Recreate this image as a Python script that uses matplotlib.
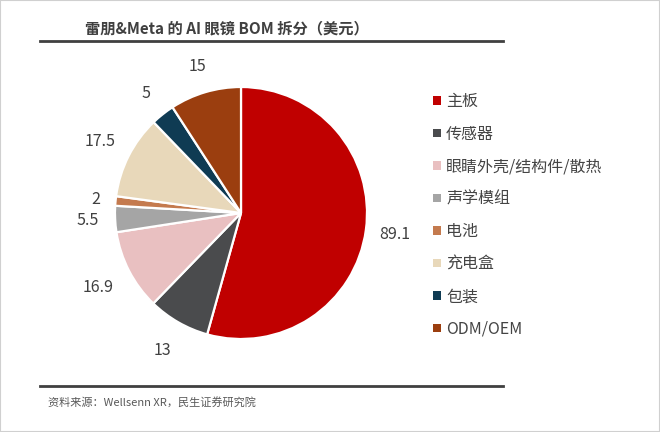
import numpy as np
import matplotlib
matplotlib.use("Agg")
import matplotlib.pyplot as plt
from matplotlib.patches import Rectangle

plt.rcParams['font.family'] = ['Noto Sans CJK SC', 'DejaVu Sans']

# BOM data (USD)
parts = ["主板", "传感器", "眼睛外壳/结构件/散热", "声学模组", "电池", "充电盒", "包装", "ODM/OEM"]
costs = [89.1, 13, 16.9, 5.5, 2, 17.5, 5, 15]
value_labels = ["89.1", "13", "16.9", "5.5", "2", "17.5", "5", "15"]
colors = ["#C00000", "#4A4B4D", "#E9C0C1", "#A5A5A5", "#C47A4E", "#E8D8BA", "#0F3B53", "#9B3E0F"]

title = "雷朋&Meta 的 AI 眼镜 BOM 拆分（美元）"
source = "资料来源：Wellsenn XR，民生证券研究院"

W, H = 660, 432
fig = plt.figure(figsize=(W / 100, H / 100), dpi=100)

# pie axes: centre ~(241,213) px, radius ~126 px
ax = fig.add_axes([115 / W, 1 - 339 / H, 252 / W, 252 / H])
wedges, _ = ax.pie(costs, colors=colors, startangle=90, counterclock=False,
                   wedgeprops=dict(edgecolor="white", linewidth=1.6))
ax.set_xlim(-1, 1)
ax.set_ylim(-1, 1)
ax.set_aspect("equal")

# value labels centred outside each wedge
dists = [1.23, 1.26, 1.28, 1.22, 1.16, 1.25, 1.21, 1.21]
for w, lab, d in zip(wedges, value_labels, dists):
    ang = np.deg2rad((w.theta1 + w.theta2) / 2)
    ax.text(d * np.cos(ang), d * np.sin(ang), lab, ha="center", va="center",
            fontsize=11.5, color="#404040")

leg = fig.legend(wedges, parts, loc="upper left", bbox_to_anchor=(427 / W, 1 - 87 / H),
                 frameon=False, fontsize=11.5, handlelength=0.45, handleheight=0.45,
                 handletextpad=0.35, labelspacing=0.97, borderaxespad=0)
for t in leg.get_texts():
    t.set_color("#444444")
for p in leg.get_patches():
    p.set_edgecolor("none")

# title, rules and source
fig.text(85 / W, 1 - 28 / H, title, fontsize=11, fontweight="bold", color="#404040",
         ha="left", va="center")
fig.add_artist(plt.Line2D([40 / W, 503 / W], [1 - 41 / H, 1 - 41 / H], color="#404040", lw=2))
fig.add_artist(plt.Line2D([40 / W, 503 / W], [1 - 386 / H, 1 - 386 / H], color="#404040", lw=2))
fig.text(48 / W, 1 - 402 / H, source, fontsize=8, color="#595959", ha="left", va="center")

# light frame round the picture
fig.add_artist(Rectangle((0, 0), 1, 1, transform=fig.transFigure, fill=False,
                         edgecolor="#D0D0D0", lw=1.5))

fig.savefig("out.png", dpi=100)
